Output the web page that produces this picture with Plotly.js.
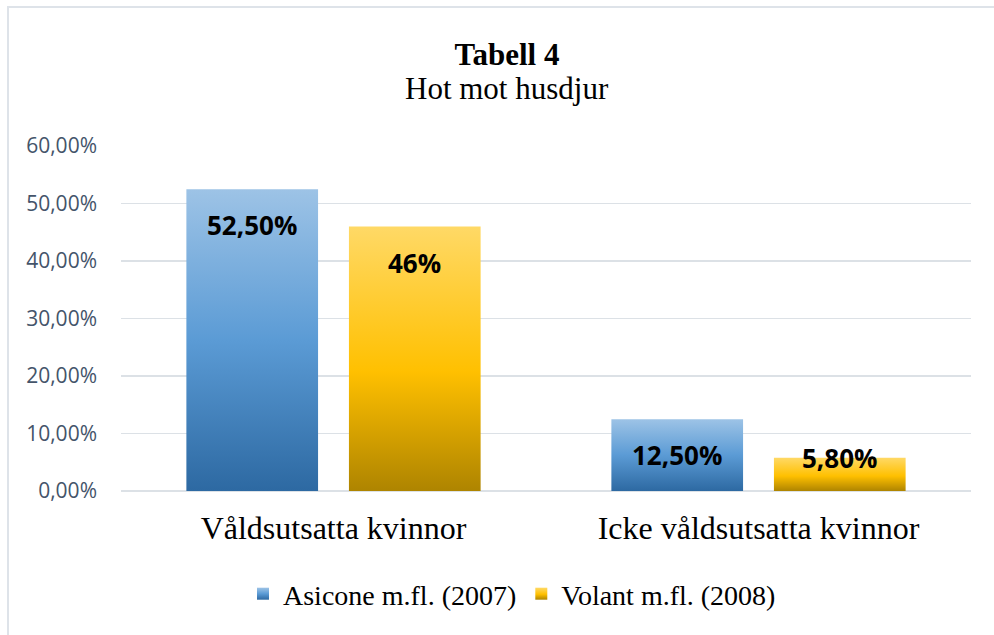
<!DOCTYPE html>
<html>
<head>
<meta charset="utf-8">
<script src="https://cdn.plot.ly/plotly-3.0.1.min.js"></script>
<style>
  html, body { margin: 0; padding: 0; background: #fff; }
  #wrap { position: relative; width: 994px; height: 635px; overflow: hidden; }
  #chart { width: 994px; height: 635px; }
  #frame { position: absolute; left: 7px; top: 6px; width: 1100px; height: 800px;
           border: 2px solid #DEE3E9; pointer-events: none; box-sizing: border-box; }
</style>
</head>
<body>
<div id="wrap"><div id="chart"></div><div id="frame"></div></div>
<script>
const categories = ['Våldsutsatta kvinnor', 'Icke våldsutsatta kvinnor'];
const seriesNames = ['Asicone m.fl. (2007)', 'Volant m.fl. (2008)'];
const asicone = [0.525, 0.125];
const volant = [0.46, 0.058];
const asiconeLabels = ['52,50%', '12,50%'];
const volantLabels = ['46%', '5,80%'];
const yTicks = [0, 0.1, 0.2, 0.3, 0.4, 0.5, 0.6];

const W = 994, H = 635;
const M = {l: 121, r: 23, t: 146, b: 144};
const yMax = 0.6;
const bargap = 0.235, bargroupgap = 0.19;
const pxPerUnit = (H - M.t - M.b) / yMax;
const titleCenterX = 507 / W;

const gradIds = ['gradBlue', 'gradGold'];
const gradStops = [
  [['0%', '#9DC3E6'], ['50%', '#5B9BD5'], ['100%', '#2D69A2']],
  [['0%', '#FFD966'], ['55%', '#FFC000'], ['100%', '#AE8400']]
];
const baseColors = ['#5B9BD5', '#FFC000'];

const traces = [
  {type: 'bar', name: seriesNames[0], x: categories, y: asicone,
   marker: {color: baseColors[0], line: {width: 0}}, hoverinfo: 'y+name'},
  {type: 'bar', name: seriesNames[1], x: categories, y: volant,
   marker: {color: baseColors[1], line: {width: 0}}, hoverinfo: 'y+name'}
];

// data labels placed "inside end" like the original
const slot = (1 - bargap) / 2;
const offs = [-slot / 2, slot / 2];
const allVals = [asicone, volant];
const allLabels = [asiconeLabels, volantLabels];
const annotations = [];
for (let s = 0; s < 2; s++) {
  for (let c = 0; c < categories.length; c++) {
    const v = allVals[s][c];
    const yc = Math.max(v - 36 / pxPerUnit, 33 / pxPerUnit);
    annotations.push({
      xref: 'x', yref: 'y', x: c + offs[s], y: yc,
      text: '<b>' + allLabels[s][c] + '</b>', showarrow: false,
      xanchor: 'center', yanchor: 'middle',
      font: {family: 'Open Sans, sans-serif', size: 26, color: '#000'}
    });
  }
}

const layout = {
  width: W, height: H,
  margin: M,
  paper_bgcolor: '#fff', plot_bgcolor: '#fff',
  barmode: 'group', bargap: bargap, bargroupgap: bargroupgap,
  separators: ',.',
  title: {
    text: '<b>Tabell 4</b>',
    font: {family: 'Liberation Serif, Times New Roman, serif', size: 31, color: '#000'},
    x: titleCenterX, xref: 'container', xanchor: 'center',
    y: 1 - 54 / H, yref: 'container', yanchor: 'middle'
  },
  annotations: annotations.concat([{
    xref: 'paper', yref: 'paper', x: (titleCenterX * W - M.l) / (W - M.l - M.r), y: (H - M.b - 88) / (H - M.t - M.b),
    text: 'Hot mot husdjur', showarrow: false, xanchor: 'center', yanchor: 'middle',
    font: {family: 'Liberation Serif, Times New Roman, serif', size: 31, color: '#000'}
  }]),
  xaxis: {
    type: 'category', showgrid: false, zeroline: false, showline: false, ticks: '',
    tickfont: {family: 'Liberation Serif, Times New Roman, serif', size: 32, color: '#000'},
    ticklabelstandoff: 15
  },
  yaxis: {
    range: [0, yMax], tickvals: yTicks, tickformat: '.2%',
    showgrid: true, gridcolor: '#DCE1E6', gridwidth: 1.5,
    zeroline: true, zerolinecolor: '#DCE1E6', zerolinewidth: 1.5,
    showline: false, ticks: '',
    tickfont: {family: 'Open Sans, sans-serif', size: 21, color: '#44546A'},
    ticklabelstandoff: 23
  },
  showlegend: true,
  legend: {
    orientation: 'h', xref: 'container', yref: 'container',
    x: 512 / W, xanchor: 'center', y: 1 - 594 / H, yanchor: 'middle',
    font: {family: 'Liberation Serif, Times New Roman, serif', size: 28, color: '#000'},
    itemwidth: 30, traceorder: 'normal'
  },
  hovermode: false
};

function applyGradients(gd) {
  const svg = gd.querySelector('svg.main-svg');
  const NS = 'http://www.w3.org/2000/svg';
  let defs = svg.querySelector('defs');
  if (!defs) { defs = document.createElementNS(NS, 'defs'); svg.insertBefore(defs, svg.firstChild); }
  gradIds.forEach((id, i) => {
    if (defs.querySelector('#' + id)) return;
    const lg = document.createElementNS(NS, 'linearGradient');
    lg.setAttribute('id', id);
    lg.setAttribute('x1', '0'); lg.setAttribute('y1', '0');
    lg.setAttribute('x2', '0'); lg.setAttribute('y2', '1');
    gradStops[i].forEach(([o, c]) => {
      const st = document.createElementNS(NS, 'stop');
      st.setAttribute('offset', o); st.setAttribute('stop-color', c);
      lg.appendChild(st);
    });
    defs.appendChild(lg);
  });
  gd.querySelectorAll('.barlayer .trace').forEach((tr, i) => {
    tr.querySelectorAll('path').forEach(p => { p.style.fill = 'url(#' + gradIds[i] + ')'; });
  });
  gd.querySelectorAll('.legend .traces').forEach((tr, i) => {
    tr.querySelectorAll('.legendpoints path').forEach(p => { p.style.fill = 'url(#' + gradIds[i] + ')'; });
  });
}

Plotly.newPlot('chart', traces, layout, {displayModeBar: false, staticPlot: true}).then(gd => {
  applyGradients(gd);
  gd.on('plotly_afterplot', () => applyGradients(gd));
});
</script>
</body>
</html>
